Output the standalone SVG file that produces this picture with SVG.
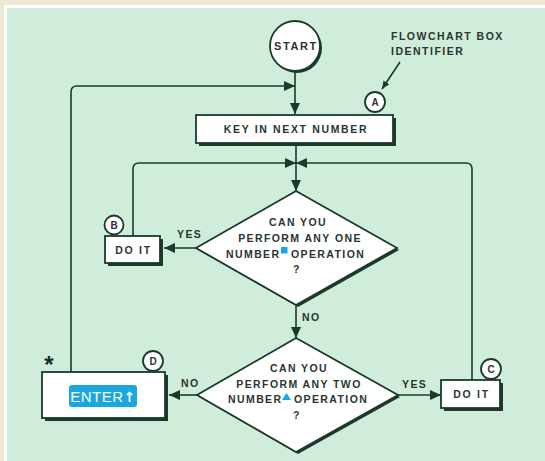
<svg xmlns="http://www.w3.org/2000/svg" width="545" height="461" viewBox="0 0 545 461">
<defs>
<style>
.ln{fill:none;stroke:#1b3a2c;stroke-width:1.6}
.sh{fill:#1b3a2c}
.bx{fill:#fff;stroke:#1b3a2c;stroke-width:1.8}
.t{font-family:"Liberation Sans",Arial,sans-serif;font-weight:bold;fill:#2a3530;font-size:10.5px;letter-spacing:1.4px}
.c{text-anchor:middle}
.id{font-family:"Liberation Sans",Arial,sans-serif;font-weight:bold;fill:#2a3530;font-size:10px;text-anchor:middle}
.blue{fill:#1aa7e0}
</style>
<marker id="ar" markerWidth="11" markerHeight="10" refX="11" refY="5" orient="auto" markerUnits="userSpaceOnUse"><path d="M0,0 L11,5 L0,10 z" fill="#1b3a2c"/></marker>
<marker id="ars" markerWidth="8" markerHeight="7" refX="8" refY="3.5" orient="auto" markerUnits="userSpaceOnUse"><path d="M0,0 L8,3.5 L0,7 z" fill="#1b3a2c"/></marker>
</defs>
<rect x="0" y="0" width="545" height="461" fill="#ebe8d3"/>
<rect x="4" y="5" width="541" height="456" fill="#ffffff"/>
<rect x="7" y="8" width="538" height="453" fill="#d0ecdb"/>

<g id="connectors">
<path class="ln" d="M295,72 V114" marker-end="url(#ar)"/>
<path class="ln" d="M71,372 V92 Q71,86 77,86 H295" marker-end="url(#ar)"/>
<path class="ln" d="M296,146 V191" marker-end="url(#ar)"/>
<path class="ln" d="M133,236 V169 Q133,163 139,163 H296" marker-end="url(#ar)"/>
<path class="ln" d="M472,380 V169 Q472,163 466,163 H296" marker-end="url(#ar)"/>
<path class="ln" d="M197,248 H164" marker-end="url(#ar)"/>
<path class="ln" d="M296,306 V338" marker-end="url(#ar)"/>
<path class="ln" d="M197,395 H169" marker-end="url(#ar)"/>
<path class="ln" d="M398,395 H441" marker-end="url(#ar)"/>
<path class="ln" d="M400,62 L382,89" stroke-width="1.3" marker-end="url(#ars)"/>
<text class="t" x="177" y="238">YES</text>
<text class="t" x="302" y="321">NO</text>
<text class="t" x="181" y="387">NO</text>
<text class="t" x="402" y="388">YES</text>
</g>

<g id="label">
<text class="t" x="391" y="39.5" style="letter-spacing:1.5px">FLOWCHART BOX</text>
<text class="t" x="391" y="55" style="letter-spacing:1.5px">IDENTIFIER</text>
</g>

<g id="start">
<circle class="sh" cx="297" cy="48" r="25"/>
<circle class="bx" cx="295" cy="46" r="25"/>
<text class="t c" x="296" y="50" style="font-size:11px;letter-spacing:1.6px">START</text>
</g>

<g id="nodeA">
<rect class="sh" x="199" y="118" width="197" height="28"/>
<rect class="bx" x="196" y="115" width="197" height="28"/>
<text class="t c" x="296" y="133" style="letter-spacing:1.65px">KEY IN NEXT NUMBER</text>
<circle class="bx" cx="375" cy="102" r="10" stroke-width="1.5"/>
<text class="id" x="375" y="105.5">A</text>
</g>

<g id="decision1">
<polygon class="sh" points="298,193 399,250 298,307 198,250"/>
<polygon class="bx" points="296,191 397,248 296,305 196,248"/>
<text class="t c" x="298" y="226">CAN YOU</text>
<text class="t c" x="300" y="242">PERFORM ANY ONE</text>
<text class="t" x="280.5" y="258" text-anchor="end">NUMBER</text>
<rect class="blue" x="281" y="247" width="6.5" height="6.5"/>
<text class="t" x="291" y="258">OPERATION</text>
<text class="t c" x="297" y="273">?</text>
</g>

<g id="nodeB">
<rect class="sh" x="108" y="239" width="55" height="27"/>
<rect class="bx" x="105" y="236" width="55" height="27"/>
<text class="t c" x="133.5" y="254" style="letter-spacing:1.75px">DO IT</text>
<circle class="bx" cx="114" cy="225" r="9.5" stroke-width="1.5"/>
<text class="id" x="114" y="228.5">B</text>
</g>

<g id="decision2">
<polygon class="sh" points="298,340 400,397 298,454 199,397"/>
<polygon class="bx" points="296,338 398,395 296,452 197,395"/>
<text class="t c" x="299" y="372">CAN YOU</text>
<text class="t c" x="299" y="388">PERFORM ANY TWO</text>
<text class="t" x="282.5" y="403" text-anchor="end">NUMBER</text>
<polygon class="blue" points="282,400 291,400 286.5,393"/>
<text class="t" x="294" y="403">OPERATION</text>
<text class="t c" x="297" y="419">?</text>
</g>

<g id="nodeC">
<rect class="sh" x="444" y="383" width="59" height="28"/>
<rect class="bx" x="441" y="380" width="59" height="28"/>
<text class="t c" x="471.5" y="398" style="letter-spacing:1.75px">DO IT</text>
<circle class="bx" cx="491" cy="369" r="10" stroke-width="1.5"/>
<text class="id" x="491" y="372.5">C</text>
</g>

<g id="nodeD">
<rect class="sh" x="45" y="375" width="123" height="46"/>
<rect class="bx" x="42" y="372" width="123" height="46"/>
<rect class="blue" x="69" y="385" width="68" height="22" rx="3"/>
<text x="103" y="402" text-anchor="middle" style="font-family:'Liberation Sans',Arial,sans-serif;font-size:15px;fill:#ffffff;letter-spacing:0.5px">ENTER<tspan style="font-family:'DejaVu Sans',sans-serif;font-weight:bold;font-size:14px">↑</tspan></text>
<circle class="bx" cx="153" cy="361" r="10" stroke-width="1.5"/>
<text class="id" x="153" y="364.5">D</text>
<text x="49" y="373" text-anchor="middle" style="font-family:'Liberation Sans',Arial,sans-serif;font-weight:bold;font-size:24px;fill:#1b2a24">*</text>
</g>
</svg>
